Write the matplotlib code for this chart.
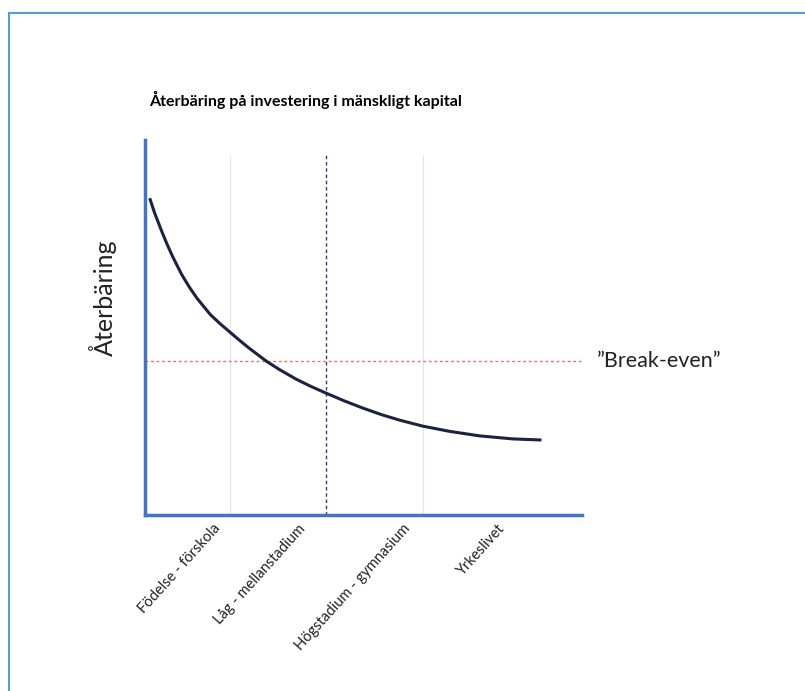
import matplotlib
matplotlib.use("Agg")
import matplotlib.pyplot as plt
from matplotlib.lines import Line2D

plt.rcParams['font.family'] = ['Lato', 'DejaVu Sans']

# Data
stages = ["Födelse - förskola", "Låg - mellanstadium",
          "Högstadium - gymnasium", "Yrkeslivet"]
stage_pos = [0.88, 1.76, 2.84, 3.83]

curve_x = [0.17, 0.22, 0.30, 0.35, 0.41, 0.50, 0.58, 0.66, 0.80, 0.90,
           1.00, 1.10, 1.20, 1.38, 1.52, 1.69, 1.84, 1.98, 2.18, 2.38,
           2.58, 2.76, 3.00, 3.28, 3.59, 3.93, 4.23]
curve_y = [8.45, 8.06, 7.53, 7.22, 6.88, 6.42, 6.08, 5.78, 5.34, 5.10,
           4.88, 4.66, 4.45, 4.10, 3.87, 3.62, 3.43, 3.27, 3.05, 2.85,
           2.67, 2.53, 2.37, 2.23, 2.11, 2.03, 2.00]

break_even = 4.1
grid_x = [1, 3]
divider_x = 2

fig = plt.figure(figsize=(8.05, 6.91), dpi=100)

# thin blue frame on left and top
fig.add_artist(Line2D([0.011, 0.011], [0, 0.981], color='#5B9BD5', lw=1.5))
fig.add_artist(Line2D([0.011, 1.0], [0.981, 0.981], color='#5B9BD5', lw=1.5))

ax = fig.add_axes([0.180, 0.2547, 0.543, 0.5426])

ax.vlines(grid_x, 0, 9.6, color='#E3E3E3', lw=0.8)
ax.vlines(divider_x, 0, 9.6, color='#2F3E7A', lw=1, linestyles=(0, (2.5, 2)))
ax.axhline(break_even, color='#E87070', lw=1, ls=(0, (2, 2)))

ax.plot(curve_x, curve_y, color='#1C2340', lw=2.2,
        solid_capstyle='butt', solid_joinstyle='round')

ax.set_xlim(0.12, 4.65)
ax.set_ylim(0, 10)

for s in ['top', 'right']:
    ax.spines[s].set_visible(False)
for s in ['left', 'bottom']:
    ax.spines[s].set_color('#4472C4')
    ax.spines[s].set_linewidth(2.5)

ax.set_yticks([])
ax.set_xticks(stage_pos)
ax.set_xticklabels(stages, rotation=48, ha='right', va='center',
                   rotation_mode='anchor', fontsize=10.5, color='#222222')
ax.tick_params(axis='x', length=0, pad=8)

ax.text(4.80, break_even, "\u201dBreak-even\u201d", fontsize=15.5,
        va='center', ha='left', color='#222222', clip_on=False)

fig.text(0.128, 0.569, "Återbäring", rotation=90, fontsize=18,
         ha='center', va='center', color='#222222')
fig.text(0.379, 0.855, "Återbäring på investering i mänskligt kapital",
         fontsize=11.5, fontweight='bold', ha='center', va='center')

fig.savefig("out.png", dpi=100, facecolor='white')
